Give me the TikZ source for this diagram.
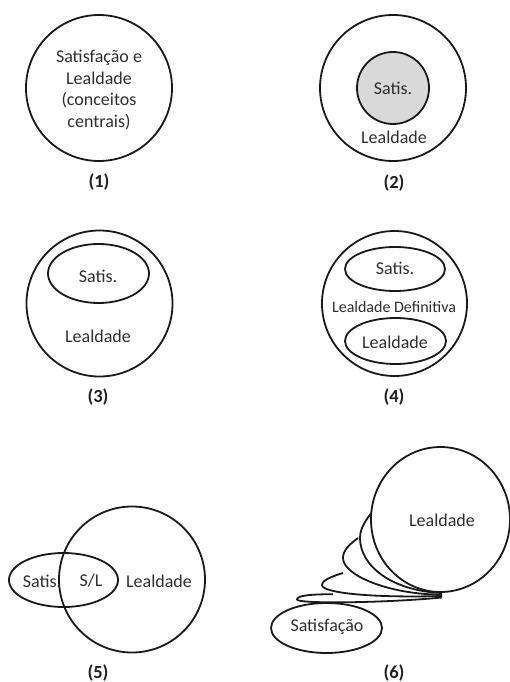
\documentclass[tikz,border=0pt]{standalone}
\usepackage{fontspec}
\setmainfont{Carlito}
\begin{document}
\begin{tikzpicture}[x=1pt,y=-1pt,
  outline/.style={line width=1.8pt, draw=black!90},
  txt/.style={font=\fontsize{18}{21.5}\selectfont, text=black!82, align=center, inner sep=0pt},
  smalltxt/.style={font=\fontsize{16}{19}\selectfont, text=black!82, inner sep=0pt},
  tag/.style={font=\fontsize{18.5}{21}\selectfont\bfseries, text=black!88, inner sep=0pt}]
\useasboundingbox (0,0) rectangle (509,682);

% (1) one circle for both concepts
\draw[outline] (99,88) circle [radius=73];
\node[txt] (c1) at (99,90) {Satisfação e\\Lealdade\\(conceitos\\centrais)};
\node[tag] (t1) at (99,182) {(1)};

% (2) satisfaction nested at the centre of loyalty
\draw[outline] (393,88) circle [radius=73];
\draw[outline, fill=black!15] (393,88) circle [radius=36];
\node[txt] (s2) at (393,88) {Satis.};
\node[txt] (l2) at (394,137) {Lealdade};
\node[tag] (t2) at (394,183) {(2)};

% (3) satisfaction as the upper part of loyalty
\draw[outline] (99.5,303.5) circle [radius=73];
\draw[outline] (98.5,273.5) ellipse [x radius=50.5, y radius=29.5];
\node[txt] (s3) at (98,276) {Satis.};
\node[txt] (l3) at (98,336) {Lealdade};
\node[tag] (t3) at (98,397) {(3)};

% (4) both inside a definitive loyalty
\draw[outline] (394.5,303.5) circle [radius=72.5];
\draw[outline] (395,269) ellipse [x radius=50, y radius=22];
\draw[outline] (395.5,341) ellipse [x radius=50.5, y radius=23];
\node[txt] (s4) at (395,268) {Satis.};
\node[smalltxt] (d4) at (394,307) {Lealdade Definitiva};
\node[txt] (l4) at (395,342) {Lealdade};
\node[tag] (t4) at (394,397) {(4)};

% (5) overlapping concepts
\draw[outline] (132,579.5) circle [radius=73];
\draw[outline] (63.5,580) ellipse [x radius=54.5, y radius=27];
\node[txt] (s5) at (42,581) {Satis.};
\node[txt] (sl5) at (91,581) {S/L};
\node[txt] (l5) at (159,581) {Lealdade};
\node[tag] (t5) at (98,673) {(5)};

% (6) satisfaction growing into loyalty
\draw[outline] (326.5,628) ellipse [x radius=55.5, y radius=25];
\node[txt] (s6) at (327,627) {Satisfação};
% intermediate stages, each emerging from behind the next
\draw[outline] (333,594.2) .. controls (310,594.3) and (297,595.5) .. (297,599.5)
  .. controls (297,604) and (385,603) .. (442,597.5);
\draw[outline] (343,573) .. controls (333,576) and (322,580) .. (322,585)
  .. controls (322,593) and (372,598) .. (442,596);
\draw[outline] (358,538) .. controls (350,544) and (343,550) .. (343,558)
  .. controls (343,576) and (392,595) .. (442,594.5);
\draw[outline] (371.3,513) .. controls (366,520) and (360,528) .. (360,538)
  .. controls (360,566) and (392,591) .. (442,593);
\draw[outline, fill=white] (440.5,519.5) ellipse [x radius=69.5, y radius=72.5];
\node[txt] (l6) at (442,520) {Lealdade};
\node[tag] (t6) at (394,673) {(6)};
\end{tikzpicture}
\end{document}
